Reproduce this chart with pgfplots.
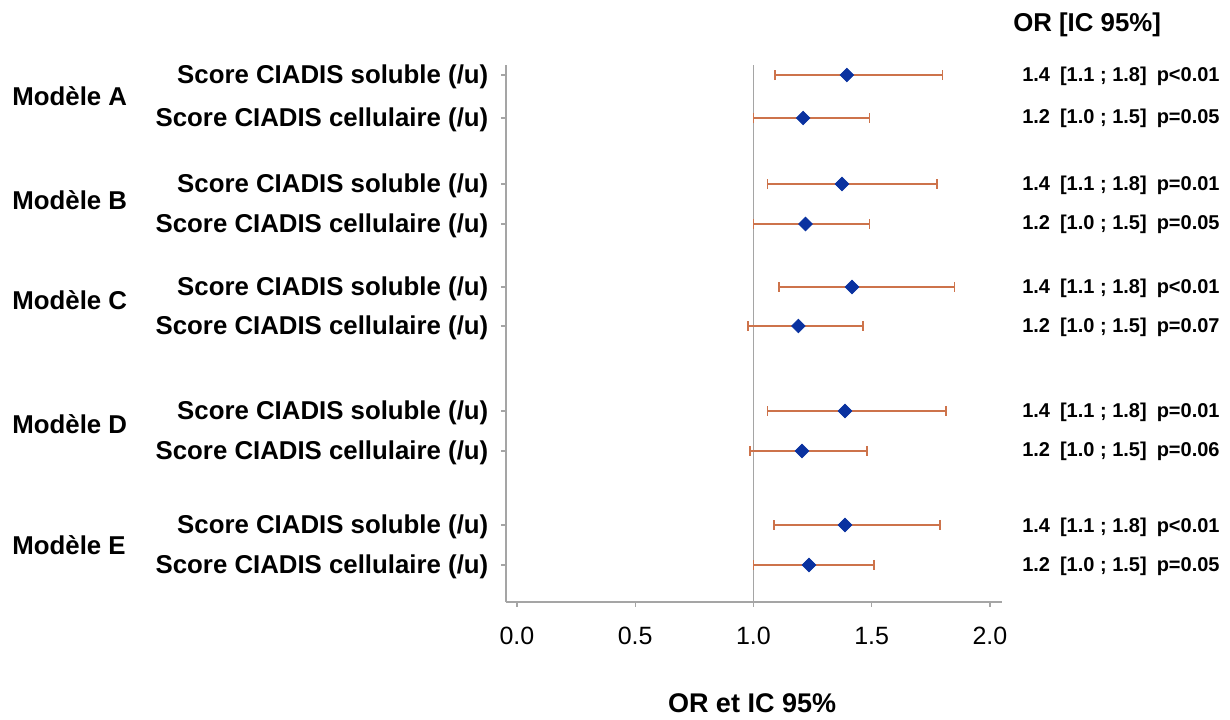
\documentclass[border=0pt]{standalone}
\usepackage{fontspec}
\setmainfont{Liberation Sans}
\usepackage{pgfplots}
\usepackage{pgfplotstable}
\pgfplotsset{compat=1.18}
\definecolor{axgray}{RGB}{165,165,165}
\definecolor{errc}{RGB}{205,115,75}
\definecolor{mkc}{RGB}{10,50,160}
\pgfplotstableread{
y   or    lo    hi
75  1.395 1.090 1.800
118 1.210 1.000 1.490
184 1.374 1.060 1.776
224 1.220 1.000 1.490
287 1.417 1.108 1.850
326 1.190 0.977 1.463
411 1.387 1.060 1.814
451 1.205 0.985 1.480
525 1.387 1.087 1.790
565 1.235 1.000 1.510
}\data
\newcommand{\lab}{\fontsize{12.9}{14}\selectfont\bfseries}
\newcommand{\rt}{\fontsize{10}{12}\selectfont\bfseries}
\newcommand{\rr}[3]{#1\hspace{0.5em}[#2]\hspace{0.5em}#3}
\begin{document}
\begin{tikzpicture}
\begin{axis}[
  x=118.25pt, y=0.5pt, y dir=reverse,
  xmin=-0.0465, xmax=2.051, ymin=65, ymax=602,
  axis lines*=left,
  axis line style={draw=axgray, line width=0.7pt},
  tick style={draw=axgray, line width=0.7pt},
  major tick length=2.5pt, tick align=outside,
  xtick={0,0.5,1,1.5,2},
  xticklabel style={font=\fontsize{12.5}{14}\selectfont, yshift=-6.5pt},
  /pgf/number format/.cd, fixed, fixed zerofill, precision=1, assume math mode=true, /pgfplots/.cd,
  ytick={75,118,184,224,287,326,411,451,525,565},
  yticklabels={Score CIADIS soluble (/u),Score CIADIS cellulaire (/u),
               Score CIADIS soluble (/u),Score CIADIS cellulaire (/u),
               Score CIADIS soluble (/u),Score CIADIS cellulaire (/u),
               Score CIADIS soluble (/u),Score CIADIS cellulaire (/u),
               Score CIADIS soluble (/u),Score CIADIS cellulaire (/u)},
  yticklabel style={font=\lab, xshift=-2.8pt, yshift=-1pt},
  clip=false,
]
\addplot[axgray, line width=0.7pt, forget plot] coordinates {(1,65) (1,602)};
\addplot[draw=none, mark=none, forget plot,
  error bars/.cd, x dir=both, x explicit,
  error bar style={draw=errc, line width=0.8pt},
  error mark options={draw=errc, line width=0.8pt, mark size=2.5pt, rotate=90}]
  table[x=or, y=y, x error plus expr=\thisrow{hi}-\thisrow{or}, x error minus expr=\thisrow{or}-\thisrow{lo}] {\data};
\addplot[only marks, mark=square*, mark size=2.4pt, mark options={fill=mkc, draw=mkc, rotate=45}]
  table[x=or, y=y] {\data};
\node[anchor=west, font=\lab, inner sep=0pt] at (axis cs:-2.135,96) {Modèle A};
\node[anchor=west, font=\lab, inner sep=0pt] at (axis cs:-2.135,200) {Modèle B};
\node[anchor=west, font=\lab, inner sep=0pt] at (axis cs:-2.135,300) {Modèle C};
\node[anchor=west, font=\lab, inner sep=0pt] at (axis cs:-2.135,424) {Modèle D};
\node[anchor=west, font=\lab, inner sep=0pt] at (axis cs:-2.135,545) {Modèle E};
\node[anchor=west, font=\lab, inner sep=0pt] at (axis cs:2.097,25) {OR [IC 95\%]};
\node[font=\fontsize{13.5}{15}\selectfont\bfseries] at (axis cs:0.994,703) {OR et IC 95\%};
\node[anchor=west, font=\rt, inner sep=0pt] at (axis cs:2.135,76)  {\rr{1.4}{1.1 ; 1.8}{p<0.01}};
\node[anchor=west, font=\rt, inner sep=0pt] at (axis cs:2.135,118) {\rr{1.2}{1.0 ; 1.5}{p=0.05}};
\node[anchor=west, font=\rt, inner sep=0pt] at (axis cs:2.135,185) {\rr{1.4}{1.1 ; 1.8}{p=0.01}};
\node[anchor=west, font=\rt, inner sep=0pt] at (axis cs:2.135,224) {\rr{1.2}{1.0 ; 1.5}{p=0.05}};
\node[anchor=west, font=\rt, inner sep=0pt] at (axis cs:2.135,288) {\rr{1.4}{1.1 ; 1.8}{p<0.01}};
\node[anchor=west, font=\rt, inner sep=0pt] at (axis cs:2.135,327) {\rr{1.2}{1.0 ; 1.5}{p=0.07}};
\node[anchor=west, font=\rt, inner sep=0pt] at (axis cs:2.135,412) {\rr{1.4}{1.1 ; 1.8}{p=0.01}};
\node[anchor=west, font=\rt, inner sep=0pt] at (axis cs:2.135,451) {\rr{1.2}{1.0 ; 1.5}{p=0.06}};
\node[anchor=west, font=\rt, inner sep=0pt] at (axis cs:2.135,527) {\rr{1.4}{1.1 ; 1.8}{p<0.01}};
\node[anchor=west, font=\rt, inner sep=0pt] at (axis cs:2.135,566) {\rr{1.2}{1.0 ; 1.5}{p=0.05}};
\path (axis cs:-2.186,0) rectangle (axis cs:3.015,713);
\end{axis}
\end{tikzpicture}
\end{document}
